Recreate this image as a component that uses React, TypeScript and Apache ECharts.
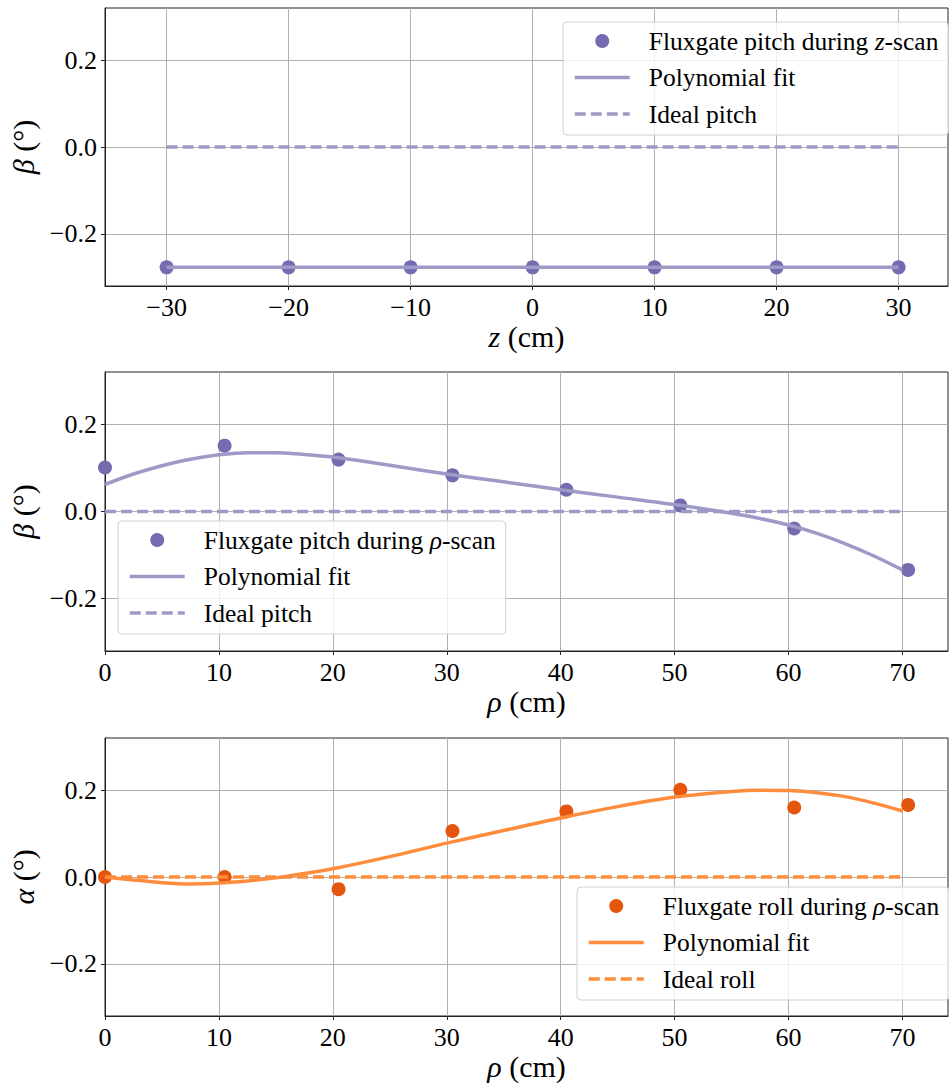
import React, { useEffect, useRef } from "react";
import * as echarts from "echarts";

// ---------- data ----------
const zScan = [-30, -20, -10, 0, 10, 20, 30];
const pitchZScan = [-0.277, -0.277, -0.277, -0.277, -0.277, -0.277, -0.277];
const zFitX = [-30, 30];
const pitchZFit = [-0.277, -0.277];
const zIdealX = [-30, 30];
const zIdealY = [0, 0];

const rhoScan = [0, 10.5, 20.5, 30.5, 40.5, 50.5, 60.5, 70.5];
const pitchRhoScan = [0.101, 0.151, 0.119, 0.083, 0.05, 0.014, -0.039, -0.134];
const rollRhoScan = [0.0, 0.0, -0.028, 0.106, 0.151, 0.201, 0.16, 0.166];

const rhoFitX = [0, 2.5, 5, 7.5, 10, 12.5, 15, 17.5, 20, 25, 30, 35, 40, 45, 50, 55, 57.5, 60, 62.5, 65, 67.5, 70];
const pitchRhoFit = [0.062, 0.086, 0.105, 0.12, 0.13, 0.135, 0.135, 0.131, 0.125, 0.106, 0.086, 0.068, 0.05, 0.033, 0.016, -0.004, -0.016, -0.031, -0.05, -0.074, -0.102, -0.134];
const rollRhoFit = [0.0, -0.007, -0.013, -0.016, -0.014, -0.009, -0.002, 0.008, 0.019, 0.047, 0.078, 0.107, 0.136, 0.162, 0.184, 0.197, 0.2, 0.199, 0.194, 0.185, 0.17, 0.152];

const rhoIdealX = [0, 70];
const rhoIdealY = [0, 0];

const yTicks = [-0.2, 0, 0.2];
const zTicks = [-30, -20, -10, 0, 10, 20, 30];
const rhoTicks = [0, 10, 20, 30, 40, 50, 60, 70];

const legendLabels: Record<string, string> = {
  pts1: "{p| }{t|Fluxgate pitch during }{i|z}{t|-scan}",
  fit1: "{p| }{t|Polynomial fit}",
  ideal1: "{p| }{t|Ideal pitch}",
  pts2: "{p| }{t|Fluxgate pitch during }{i|ρ}{t|-scan}",
  fit2: "{p| }{t|Polynomial fit}",
  ideal2: "{p| }{t|Ideal pitch}",
  pts3: "{p| }{t|Fluxgate roll during }{i|ρ}{t|-scan}",
  fit3: "{p| }{t|Polynomial fit}",
  ideal3: "{p| }{t|Ideal roll}",
};

const PURPLE_DARK = "#756bb1";
const PURPLE_LIGHT = "#9e9ac8";
const ORANGE_DARK = "#e6550d";
const ORANGE_LIGHT = "#fd8d3c";

const FONT = "'Liberation Serif', 'DejaVu Serif', serif";

const zip = (a: number[], b: number[]) => a.map((v, i) => [v, b[i]]);
const minus = (s: string) => s.replace("-", "\u2212");

export default function App() {
  const ref = useRef<HTMLDivElement>(null);

  useEffect(() => {
    if (!ref.current) return;
    const chart = echarts.init(ref.current, undefined, { renderer: "svg" });

    const gridTops = [8, 372, 738];
    const gridHeights = [278, 279, 278];

    const nameStyle = {
      fontFamily: FONT,
      fontSize: 30,
      color: "#000",
      rich: {
        i: { fontFamily: FONT, fontSize: 30, fontStyle: "italic", color: "#000" },
        t: { fontFamily: FONT, fontSize: 30, color: "#000" },
      },
    };

    const makeX = (idx: number, min: number, max: number, ticks: number[], name: string) => ({
      type: "value",
      gridIndex: idx,
      min,
      max,
      name,
      nameLocation: "middle",
      nameGap: 35,
      nameTextStyle: nameStyle,
      axisLine: { show: true, onZero: false, lineStyle: { color: "#222", width: 1 } },
      axisTick: { show: true, length: 4, inside: false, customValues: ticks, lineStyle: { color: "#222" } },
      axisLabel: {
        customValues: ticks,
        margin: 8,
        fontFamily: FONT,
        fontSize: 26,
        color: "#000",
        formatter: (v: number) => minus(String(Math.round(v))),
      },
      splitLine: { show: true, lineStyle: { color: "#b0b0b0", width: 1 } },
    });

    const makeY = (idx: number, name: string) => ({
      type: "value",
      gridIndex: idx,
      min: -0.32,
      max: 0.32,
      name,
      nameLocation: "middle",
      nameRotate: 90,
      nameGap: 50,
      nameTextStyle: nameStyle,
      axisLine: { show: true, onZero: false, lineStyle: { color: "#222", width: 1 } },
      axisTick: { show: true, length: 4, inside: false, customValues: yTicks, lineStyle: { color: "#222" } },
      axisLabel: {
        customValues: yTicks,
        margin: 8,
        fontFamily: FONT,
        fontSize: 26,
        color: "#000",
        formatter: (v: number) => (Math.abs(v) < 1e-9 ? "0.0" : minus(v.toFixed(1))),
      },
      splitLine: { show: true, lineStyle: { color: "#b0b0b0", width: 1 } },
    });

    const hiddenSymbol = { opacity: 0, color: "rgba(0,0,0,0)", borderWidth: 0 };
    const legendData = (i: number) => [
      `pts${i}`,
      { name: `fit${i}`, itemStyle: hiddenSymbol },
      { name: `ideal${i}`, itemStyle: hiddenSymbol },
    ];

    const legendCommon = {
      orient: "vertical",
      itemWidth: 55,
      itemHeight: 14,
      itemGap: 10.5,
      padding: [6, 10, 8, 10],
      backgroundColor: "rgba(255,255,255,0.8)",
      borderColor: "#d0d0d0",
      borderWidth: 1,
      borderRadius: 4,
      selectedMode: false,
      formatter: (name: string) => legendLabels[name] || name,
      lineStyle: { width: 3.5 },
      textStyle: {
        fontFamily: FONT,
        fontSize: 25.5,
        lineHeight: 26,
        color: "#000",
        rich: {
          p: { width: 14, fontFamily: FONT, fontSize: 25.5, lineHeight: 26 },
          t: { fontFamily: FONT, fontSize: 25.5, lineHeight: 26, color: "#000" },
          i: { fontFamily: FONT, fontSize: 25.5, lineHeight: 26, fontStyle: "italic", color: "#000" },
        },
      },
    };

    const scatter = (name: string, idx: number, data: number[][], color: string) => ({
      name,
      type: "scatter",
      xAxisIndex: idx,
      yAxisIndex: idx,
      data,
      symbol: "circle",
      symbolSize: 14,
      itemStyle: { color, opacity: 1 },
      z: 2,
    });
    const line = (name: string, idx: number, data: number[][], color: string, dashed: boolean) => ({
      name,
      type: "line",
      xAxisIndex: idx,
      yAxisIndex: idx,
      data,
      symbol: "none",
      showSymbol: false,
      smooth: dashed ? false : 0.3,
      lineStyle: { color, width: 3.5, type: dashed ? [11, 5] : "solid", cap: "butt" },
      itemStyle: { color },
      z: dashed ? 4 : 3,
    });

    chart.setOption({
      animation: false,
      backgroundColor: "#fff",
      grid: gridTops.map((t, i) => ({
        left: 105,
        width: 843,
        top: t,
        height: gridHeights[i],
        show: true,
        borderColor: "#222",
        borderWidth: 1,
        backgroundColor: "transparent",
        containLabel: false,
      })),
      xAxis: [
        makeX(0, -35.05, 34.05, zTicks, "{i|z}{t| (cm)}"),
        makeX(1, 0, 74, rhoTicks, "{i|ρ}{t| (cm)}"),
        makeX(2, 0, 74, rhoTicks, "{i|ρ}{t| (cm)}"),
      ],
      yAxis: [makeY(0, "{i|β}{t| (°)}"), makeY(1, "{i|β}{t| (°)}"), makeY(2, "{i|α}{t| (°)}")],
      legend: [
        { ...legendCommon, data: legendData(1), left: 563, top: 22 },
        { ...legendCommon, data: legendData(2), left: 118, top: 521 },
        { ...legendCommon, data: legendData(3), left: 577, top: 887 },
      ],
      series: [
        scatter("pts1", 0, zip(zScan, pitchZScan), PURPLE_DARK),
        line("fit1", 0, zip(zFitX, pitchZFit), PURPLE_LIGHT, false),
        line("ideal1", 0, zip(zIdealX, zIdealY), PURPLE_LIGHT, true),
        scatter("pts2", 1, zip(rhoScan, pitchRhoScan), PURPLE_DARK),
        line("fit2", 1, zip(rhoFitX, pitchRhoFit), PURPLE_LIGHT, false),
        line("ideal2", 1, zip(rhoIdealX, rhoIdealY), PURPLE_LIGHT, true),
        scatter("pts3", 2, zip(rhoScan, rollRhoScan), ORANGE_DARK),
        line("fit3", 2, zip(rhoFitX, rollRhoFit), ORANGE_LIGHT, false),
        line("ideal3", 2, zip(rhoIdealX, rhoIdealY), ORANGE_LIGHT, true),
      ],
    });

    return () => chart.dispose();
  }, []);

  return (
    <div
      ref={ref}
      style={{ position: "absolute", left: 0, top: 0, width: 949, height: 1083, background: "#fff" }}
    />
  );
}
